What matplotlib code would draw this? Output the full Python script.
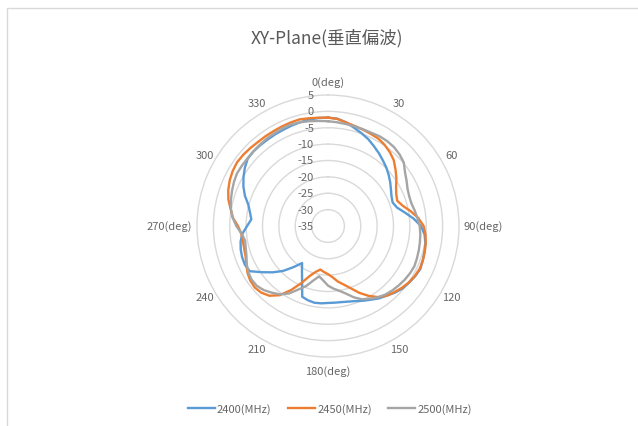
import matplotlib
matplotlib.use("Agg")
import matplotlib.pyplot as plt
from matplotlib.patches import Rectangle
from matplotlib.transforms import ScaledTranslation
import numpy as np

plt.rcParams['font.family'] = ['Noto Sans CJK JP', 'DejaVu Sans']

# Measured gain (dB) every 5 degrees, XY plane, vertical polarisation
angles = np.arange(0, 360, 5)

db_2400 = [-1.9, -2.1, -2.9, -4.0, -4.9, -5.8, -6.9, -7.9, -8.9, -9.8, -10.8, -11.8,
           -12.8, -13.6, -14.0, -13.2, -11.2, -8.8, -6.6, -5.4, -4.8, -4.5, -4.2, -3.9,
           -4.3, -4.8, -5.3, -6.2, -7.2, -8.0, -9.0, -9.8, -10.6, -11.1, -11.4, -11.5,
           -11.5, -11.3, -11.2, -11.5, -12.0, -16.3, -19.1, -21.2, -18.6, -15.6, -13.0, -10.4,
           -7.4, -7.0, -7.1, -7.4, -7.9, -8.8, -10.3, -11.5, -10.8, -9.8, -8.0, -6.5,
           -5.2, -4.0, -3.0, -2.8, -2.8, -2.8, -2.7, -2.6, -2.4, -2.2, -2.0, -1.9]

db_2450 = [-1.9, -2.2, -2.9, -3.4, -3.7, -4.0, -4.2, -4.8, -5.6, -6.6, -8.1, -9.5,
           -11.0, -12.0, -12.5, -11.3, -9.3, -7.3, -5.8, -5.1, -4.7, -4.4, -4.2, -4.1,
           -4.4, -4.9, -5.6, -6.4, -7.2, -8.5, -10.4, -12.5, -14.8, -16.5, -17.8, -19.3,
           -20.3, -20.9, -21.5, -20.5, -18.8, -15.8, -12.4, -9.2, -7.2, -6.2, -5.8, -6.0,
           -6.6, -7.5, -8.2, -8.5, -8.6, -8.4, -7.5, -5.8, -4.8, -3.5, -2.6, -1.9,
           -1.4, -1.1, -1.2, -1.4, -1.6, -1.6, -1.6, -1.5, -1.4, -1.3, -1.6, -1.8]

db_2500 = [-3.0, -3.2, -3.4, -3.5, -3.6, -3.6, -3.4, -3.4, -3.6, -4.1, -4.8, -6.3,
           -7.3, -8.2, -8.6, -8.6, -8.1, -7.6, -7.0, -6.7, -6.5, -6.3, -6.1, -5.9,
           -6.1, -6.4, -6.8, -7.2, -7.7, -8.4, -9.4, -10.3, -11.8, -13.6, -14.9, -15.8,
           -16.8, -18.3, -19.4, -17.8, -15.5, -13.6, -11.2, -9.5, -8.4, -7.3, -6.6, -6.5,
           -6.9, -7.6, -8.5, -9.0, -9.3, -8.5, -7.0, -5.8, -4.9, -4.3, -3.8, -3.3,
           -2.9, -2.9, -2.9, -2.8, -2.6, -2.4, -2.3, -2.1, -2.0, -2.2, -2.5, -2.8]

series = [('2400(MHz)', db_2400, '#5B9BD5'),
          ('2450(MHz)', db_2450, '#ED7D31'),
          ('2500(MHz)', db_2500, '#A5A5A5')]

r_ticks = [5, 0, -5, -10, -15, -20, -25, -30, -35]
theta_labels = ['0(deg)', '30', '60', '90(deg)', '120', '150',
                '180(deg)', '210', '240', '270(deg)', '300', '330']

text_color = '#666666'
grid_color = '#D9D9D9'

fig = plt.figure(figsize=(6.38, 4.27), dpi=100)
fig.patches.append(Rectangle((7 / 638, -0.05), 1.0, 1.05 - 9 / 427, transform=fig.transFigure,
                             fill=False, edgecolor=grid_color, linewidth=1.0))

ax = fig.add_axes([197 / 638, 69 / 427, 262 / 638, 262 / 427], projection='polar')
ax.set_theta_zero_location('N')
ax.set_theta_direction(-1)
ax.set_ylim(-35, 5)

# close each loop back to 0 deg
th = np.deg2rad(np.append(angles, 360))
for name, vals, col in series:
    ax.plot(th, np.append(vals, vals[0]), color=col, linewidth=1.7, label=name,
            solid_joinstyle='round')

ax.set_yticks([-30, -25, -20, -15, -10, -5, 0])
ax.set_yticklabels([])
ax.set_xticks([])
ax.xaxis.grid(False)
ax.yaxis.grid(True, color=grid_color, linewidth=1.0)
ax.spines['polar'].set_color(grid_color)
ax.spines['polar'].set_linewidth(1.0)
ax.set_facecolor('none')

# radial value labels to the left of the 0 deg axis
shift = ScaledTranslation(-14 / 100, 0, fig.dpi_scale_trans)
for v in r_ticks:
    ax.text(0, v, str(v), transform=ax.transData + shift, ha='right', va='center',
            fontsize=8, color=text_color)

# angle labels round the outside
for i, lab in enumerate(theta_labels):
    a = i * 30
    t = np.deg2rad(a)
    if a == 90:
        ax.text(t, 6.5, lab, ha='left', va='center', fontsize=8, color=text_color)
    elif a == 270:
        ax.text(t, 6.5, lab, ha='right', va='center', fontsize=8, color=text_color)
    elif a in (0, 180):
        ax.text(t, 9.0, lab, ha='center', va='center', fontsize=8, color=text_color)
    else:
        ax.text(t, 8.4, lab, ha='center', va='center', fontsize=8, color=text_color)

fig.text(327 / 638, 1 - 38 / 427, 'XY-Plane(垂直偏波)', ha='center', va='center',
         fontsize=12.5, color='#595959')

leg = fig.legend(loc='center', bbox_to_anchor=(330 / 638, 1 - 410 / 427), ncol=3,
                 frameon=False, fontsize=8, handlelength=2.4, handletextpad=0.2,
                 columnspacing=1.5)
for t in leg.get_texts():
    t.set_color(text_color)

fig.savefig('out.png', dpi=100, facecolor='white')
